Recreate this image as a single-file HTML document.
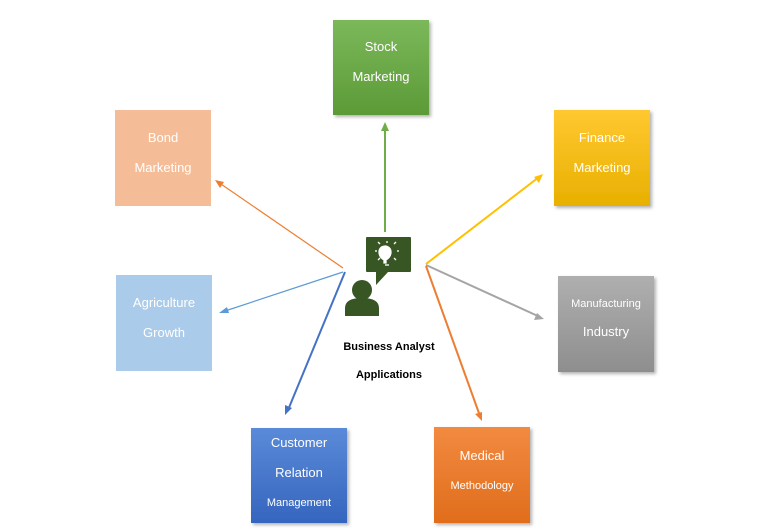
<!DOCTYPE html>
<html><head><meta charset="utf-8"><style>
body{margin:0;background:#fff;}
svg{display:block;font-family:"Liberation Sans",sans-serif;}
</style></head><body>
<svg width="780" height="532" viewBox="0 0 780 532" xmlns="http://www.w3.org/2000/svg">
<defs>
<linearGradient id="g" x1="0" y1="0" x2="0" y2="1"><stop offset="0" stop-color="#7BB85A"/><stop offset="1" stop-color="#5C9A37"/></linearGradient>
<linearGradient id="y" x1="0" y1="0" x2="0" y2="1"><stop offset="0" stop-color="#FFC830"/><stop offset="1" stop-color="#E8B000"/></linearGradient>
<linearGradient id="gr" x1="0" y1="0" x2="0" y2="1"><stop offset="0" stop-color="#AFAFAF"/><stop offset="1" stop-color="#8E8E8E"/></linearGradient>
<linearGradient id="b" x1="0" y1="0" x2="0" y2="1"><stop offset="0" stop-color="#5A8AD8"/><stop offset="1" stop-color="#3565BE"/></linearGradient>
<linearGradient id="o" x1="0" y1="0" x2="0" y2="1"><stop offset="0" stop-color="#F28A40"/><stop offset="1" stop-color="#E06D1C"/></linearGradient>
<filter id="s" x="-10%" y="-10%" width="130%" height="130%"><feDropShadow dx="2" dy="2" stdDeviation="1.5" flood-color="#000" flood-opacity="0.3"/></filter>
<marker id="m" viewBox="0 0 10 10" refX="9" refY="5" markerWidth="6" markerHeight="6" orient="auto"><path d="M0,1 L10,5 L0,9z" fill="context-stroke"/></marker>
</defs>
<g fill="none" stroke-width="1.2">
<line x1="385" y1="232" x2="385" y2="124" stroke="#70AD47" stroke-width="2" marker-end="url(#mg)"/>
<path d="M385,122 l-4,9 h8z" fill="#70AD47" stroke="none"/>
<line x1="343" y1="268" x2="218" y2="182" stroke="#ED7D31"/>
<path d="M215,180 l9,2 l-4,6z" fill="#ED7D31" stroke="none"/>
<line x1="343" y1="272" x2="222" y2="312" stroke="#5B9BD5"/>
<path d="M219,313 l8,-6 l2,6z" fill="#5B9BD5" stroke="none"/>
<line x1="345" y1="272" x2="288" y2="410" stroke="#4472C4" stroke-width="2"/>
<path d="M285,415 l0,-10 l7,3z" fill="#4472C4" stroke="none"/>
<line x1="426" y1="264" x2="539" y2="177" stroke="#FFC000" stroke-width="2"/>
<path d="M543,174 l-4,9 l-5,-6z" fill="#FFC000" stroke="none"/>
<line x1="426" y1="265" x2="540" y2="317" stroke="#A5A5A5" stroke-width="2"/>
<path d="M544,319 l-10,1 l3,-7z" fill="#A5A5A5" stroke="none"/>
<line x1="426" y1="266" x2="480" y2="416" stroke="#ED7D31" stroke-width="2"/>
<path d="M482,421 l-7,-7 l7,-2z" fill="#ED7D31" stroke="none"/>
</g>
<g fill="#fff" font-size="13" text-anchor="middle">
<rect x="333" y="20" width="96" height="95" fill="url(#g)" filter="url(#s)"/>
<text x="381" y="51">Stock</text><text x="381" y="81">Marketing</text>
<rect x="115" y="110" width="96" height="96" fill="#F5BD97"/>
<text x="163" y="142">Bond</text><text x="163" y="172">Marketing</text>
<rect x="554" y="110" width="96" height="96" fill="url(#y)" filter="url(#s)"/>
<text x="602" y="142">Finance</text><text x="602" y="172">Marketing</text>
<rect x="116" y="275" width="96" height="96" fill="#AACBEA"/>
<text x="164" y="307">Agriculture</text><text x="164" y="337">Growth</text>
<rect x="558" y="276" width="96" height="96" fill="url(#gr)" filter="url(#s)"/>
<text x="606" y="307" font-size="11">Manufacturing</text><text x="606" y="336">Industry</text>
<rect x="251" y="428" width="96" height="95" fill="url(#b)" filter="url(#s)"/>
<text x="299" y="447">Customer</text><text x="299" y="477">Relation</text><text x="299" y="506" font-size="11">Management</text>
<rect x="434" y="427" width="96" height="96" fill="url(#o)" filter="url(#s)"/>
<text x="482" y="460">Medical</text><text x="482" y="489" font-size="11">Methodology</text>
</g>
<g fill="#375623">
<rect x="366" y="237" width="45" height="35" rx="1"/>
<path d="M376,271 v14 l12,-13z"/>
<circle cx="362" cy="290" r="10"/>
<path d="M345,316 v-8 q0,-10 17,-10 q17,0 17,10 v8z"/>
</g>
<g fill="none" stroke="#fff" stroke-width="1.3">
<path d="M384,263 v-3 q-5,-3 -5,-8 a6,6 0 0 1 12,0 q0,5 -5,8 v3z" fill="#fff"/>
<line x1="385" y1="265" x2="389" y2="265"/>
<line x1="387" y1="241" x2="387" y2="243"/><line x1="377" y1="251" x2="375" y2="251"/><line x1="397" y1="251" x2="399" y2="251"/>
<line x1="380" y1="244" x2="378" y2="242"/><line x1="394" y1="244" x2="396" y2="242"/>
<line x1="380" y1="258" x2="378" y2="260"/><line x1="394" y1="258" x2="396" y2="260"/>
</g>
<g font-size="11" font-weight="bold" text-anchor="middle" fill="#000">
<text x="389" y="350">Business Analyst</text>
<text x="389" y="378">Applications</text>
</g>
</svg>
</body></html>
